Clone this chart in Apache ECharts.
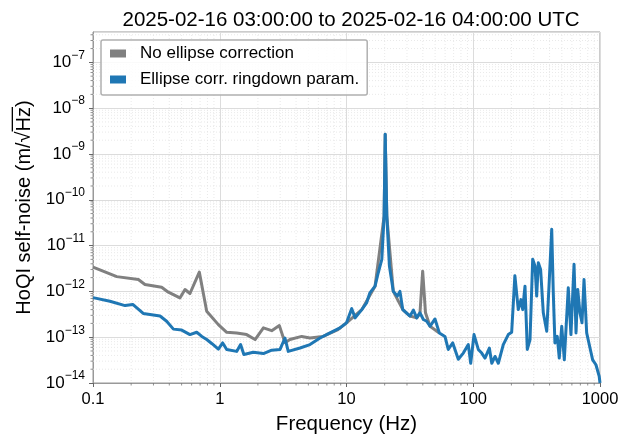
<!DOCTYPE html>
<html><head><meta charset="utf-8">
<script src="https://cdn.jsdelivr.net/npm/echarts@6/dist/echarts.min.js"></script>
<style>html,body{margin:0;padding:0;background:#fff}#c{width:631px;height:436px}</style>
</head><body><div id="c"></div>
<script>
const titleText = '2025-02-16 03:00:00 to 2025-02-16 04:00:00 UTC';
const xAxisName = 'Frequency (Hz)';
const yAxisNamePre = 'HoQI self-noise (m/\u221A';
const yAxisNameRoot = 'Hz';
const yAxisNamePost = ')';
const seriesNames = ['No ellipse correction', 'Ellipse corr. ringdown param.'];
const xTickLabels = ['0.1', '1', '10', '100', '1000'];
const X_MIN = 0.1, X_MAX = 1000;
const Y_MIN = 1e-14, Y_MAX = 4.6e-7;

const grayFreq = [0.1, 0.154, 0.228, 0.257, 0.348, 0.393, 0.485, 0.532, 0.582, 0.69, 0.789, 0.975, 1.135, 1.36, 1.63, 1.90, 2.21, 2.57, 2.95, 3.27, 3.58, 4.43, 5.15, 6.53, 8.57, 10.0, 13.2, 16.8, 19.8, 20.2, 20.8, 23.4, 27.8, 31.7, 35.8, 38.0, 39.9, 42.0, 45.6, 54.0];
const grayVal = [3.4e-12, 2.1e-12, 1.82e-12, 1.41e-12, 1.23e-12, 9.6e-13, 7.2e-13, 1.1e-12, 9.0e-13, 2.63e-12, 3.7e-13, 1.88e-13, 1.28e-13, 1.24e-13, 1.14e-13, 8.9e-14, 1.6e-13, 1.39e-13, 1.8e-13, 7.6e-14, 8.9e-14, 1.04e-13, 9.6e-14, 1.04e-13, 1.47e-13, 2.06e-13, 4.0e-13, 1.3e-12, 4.4e-11, 2.7e-9, 4.4e-11, 1.0e-12, 4.0e-13, 2.9e-13, 2.64e-13, 3.4e-13, 2.76e-12, 3.4e-13, 1.73e-13, 1.24e-13];

const blueFreq = [0.1, 0.136, 0.179, 0.206, 0.249, 0.338, 0.381, 0.431, 0.501, 0.582, 0.658, 0.722, 0.789, 0.869, 0.975, 1.055, 1.135, 1.36, 1.46, 1.55, 1.84, 2.21, 2.57, 2.99, 3.27, 3.47, 4.30, 5.15, 6.18, 7.41, 8.89, 10.0, 11.0, 11.7, 13.2, 14.4, 15.3, 16.8, 17.8, 19.0, 19.8, 20.2, 20.8, 21.8, 23.4, 25.2, 26.4, 27.8, 31.7, 33.7, 35.8, 38.0, 40.4, 42.9, 45.6, 49.9, 54.0, 59.8, 63.5, 68.9, 76.2, 83.5, 91.4, 95.5, 101.4, 109.6, 116.6, 123.8, 134, 140, 148.6, 157.7, 172.6, 189, 201, 213, 226.6, 238, 245.5, 256, 267, 280.5, 294.4, 307, 316.6, 326, 340, 357, 380, 396, 416, 428, 441, 460, 477, 499, 523, 562, 590, 624, 647, 667, 695, 721, 748, 785, 834, 875, 929, 986, 1000];
const blueVal = [7.3e-13, 6.1e-13, 4.9e-13, 5.2e-13, 3.3e-13, 2.9e-13, 2.23e-13, 1.5e-13, 1.43e-13, 1.14e-13, 1.28e-13, 1.04e-13, 8.9e-14, 7.2e-14, 5.5e-14, 7.5e-14, 5.4e-14, 4.9e-14, 6.9e-14, 4.2e-14, 4.7e-14, 4.4e-14, 5.2e-14, 5.4e-14, 9.6e-14, 4.9e-14, 5.8e-14, 6.9e-14, 9.6e-14, 1.24e-13, 1.6e-13, 2.06e-13, 4.2e-13, 2.64e-13, 4.0e-13, 5.6e-13, 9.3e-13, 1.3e-12, 2.55e-12, 5.0e-12, 4.4e-11, 2.7e-9, 4.4e-11, 3.6e-12, 1.0e-12, 7.9e-13, 1.0e-12, 4.0e-13, 2.9e-13, 3.9e-13, 2.64e-13, 3.4e-13, 2.43e-13, 2.23e-13, 1.73e-13, 2.5e-13, 1.24e-13, 1.04e-13, 5.4e-14, 7.5e-14, 3.3e-14, 4.5e-14, 6.9e-14, 2.7e-14, 1.14e-13, 5.4e-14, 4.5e-14, 3.5e-14, 5.8e-14, 2.7e-14, 3.8e-14, 2.7e-14, 6.9e-14, 1.14e-13, 1.28e-13, 2.2e-12, 4.0e-13, 6.6e-13, 4.0e-13, 1.3e-12, 5.4e-14, 8.9e-14, 5.0e-12, 3.6e-12, 7.9e-13, 4.2e-12, 3.0e-12, 3.4e-13, 1.35e-13, 1.3e-12, 2.26e-11, 9.3e-13, 7.5e-14, 1.04e-13, 3.5e-14, 1.73e-13, 3.2e-14, 1.2e-12, 1.14e-13, 3.9e-12, 1.24e-13, 1.1e-12, 3.4e-13, 2.06e-13, 1.82e-12, 1.24e-13, 5.8e-14, 3.2e-14, 2.5e-14, 1.39e-14, 1.0e-14];

const F = '"Liberation Sans", Arial, sans-serif';
const AXIS_COLOR = '#999999';

// minor tick positions (decade subdivisions)
const minorItems = [];
for (let d = -1; d < 3; d++) for (let k = 2; k <= 9; k++) minorItems.push([+(k * Math.pow(10, d)).toPrecision(3), Y_MIN, 0]);
for (let d = -14; d <= -7; d++) for (let k = 2; k <= 9; k++) { const v = +(k * Math.pow(10, d)).toPrecision(3); if (v < Y_MAX) minorItems.push([X_MIN, v, 1]); }

// measure name text for the radical overline
const ctx = document.createElement('canvas').getContext('2d');
ctx.font = '20px "Liberation Sans"';
const wPre = ctx.measureText(yAxisNamePre).width;
const wRoot = ctx.measureText(yAxisNameRoot).width;
const wPost = ctx.measureText(yAxisNamePost).width;

const chart = echarts.init(document.getElementById('c'), null, { renderer: 'canvas' });
chart.setOption({
  animation: false,
  backgroundColor: '#ffffff',
  title: {
    text: titleText, left: 346, top: 5, textAlign: 'center',
    textStyle: { fontFamily: F, fontSize: 20.5, fontWeight: 'normal', color: '#000' }
  },
  grid: { left: 93, right: 31, top: 32, bottom: 53, containLabel: false, outerBoundsMode: 'none',
    show: true, borderColor: AXIS_COLOR, borderWidth: 1, backgroundColor: 'transparent' },
  legend: {
    left: 101, top: 40, orient: 'vertical', data: seriesNames, icon: 'rect', itemWidth: 16, itemHeight: 8, itemGap: 9,
    padding: [5, 8, 7, 9], borderColor: '#b0b0b0', borderWidth: 1.5, borderRadius: 2, backgroundColor: 'rgba(255,255,255,0.85)',
    textStyle: { fontFamily: F, fontSize: 17, color: '#000', padding: [0, 0, 0, 9] }
  },
  xAxis: {
    type: 'log', logBase: 10, min: X_MIN, max: X_MAX, splitNumber: 4,
    name: xAxisName, nameLocation: 'middle', nameGap: 31,
    nameTextStyle: { fontFamily: F, fontSize: 20.5, color: '#000' },
    axisLine: { show: true, lineStyle: { color: AXIS_COLOR, width: 1 } },
    axisTick: { show: true, inside: false, length: 4, lineStyle: { color: '#666' } },
    axisLabel: { margin: 8, fontFamily: F, fontSize: 16.5, color: '#000',
      formatter: v => { const e = Math.round(Math.log10(v)); return xTickLabels[e + 1] ?? ''; } },
    splitLine: { show: true, lineStyle: { color: '#dcdcdc', width: 1 } }
  },
  yAxis: {
    type: 'log', logBase: 10, min: Y_MIN, max: Y_MAX, splitNumber: 8,
    name: '{sp|}{bar|}{sp2|}\n{t|' + yAxisNamePre + yAxisNameRoot + yAxisNamePost + '}',
    nameLocation: 'middle', nameGap: 50,
    nameTextStyle: {
      fontFamily: F, fontSize: 20, color: '#000',
      rich: {
        sp: { width: wPre, height: 3, lineHeight: 3 },
        bar: { width: wRoot, height: 1.3, lineHeight: 3, backgroundColor: '#000' },
        sp2: { width: wPost, height: 3, lineHeight: 3 },
        t: { fontFamily: F, fontSize: 20, color: '#000', lineHeight: 22 }
      }
    },
    axisLine: { show: true, lineStyle: { color: AXIS_COLOR, width: 1 } },
    axisTick: { show: true, inside: false, length: 4, lineStyle: { color: '#666' } },
    axisLabel: {
      margin: 8, showMaxLabel: false,
      formatter: v => { const e = Math.round(Math.log10(v)); return '{b|10}{s|' + (e < 0 ? '\u2212' : '') + Math.abs(e) + '}'; },
      rich: {
        b: { fontFamily: F, fontSize: 17, color: '#000' },
        s: { fontFamily: F, fontSize: 12, color: '#000', padding: [0, 0, 14, 0] }
      }
    },
    splitLine: { show: true, lineStyle: { color: '#dcdcdc', width: 1 } }
  },
  series: [
    {
      type: 'custom', silent: true, z: 1, clip: false,
      encode: { x: 0, y: 1 },
      data: minorItems,
      renderItem: (params, api) => {
        const t = api.value(2);
        const style = { stroke: '#e3e3e3', lineWidth: 0.8, lineDash: [1, 2] };
        const tick = { stroke: '#777', lineWidth: 0.8 };
        if (t === 0) {
          const v = api.value(0);
          const b = api.coord([v, Y_MIN]), tp = api.coord([v, Y_MAX]);
          return { type: 'group', children: [
            { type: 'line', shape: { x1: b[0], y1: tp[1], x2: b[0], y2: b[1] }, style },
            { type: 'line', shape: { x1: b[0], y1: b[1], x2: b[0], y2: b[1] + 2.5 }, style: tick }
          ] };
        } else {
          const v = api.value(1);
          const l = api.coord([X_MIN, v]), r = api.coord([X_MAX, v]);
          return { type: 'group', children: [
            { type: 'line', shape: { x1: l[0], y1: l[1], x2: r[0], y2: l[1] }, style },
            { type: 'line', shape: { x1: l[0] - 2.5, y1: l[1], x2: l[0], y2: l[1] }, style: tick }
          ] };
        }
      }
    },
    {
      name: seriesNames[0], type: 'line', z: 3, symbol: 'none', showSymbol: false,
      color: '#808080',
      lineStyle: { color: '#808080', width: 3, join: 'round' },
      data: grayFreq.map((f, i) => [f, grayVal[i]])
    },
    {
      name: seriesNames[1], type: 'line', z: 4, symbol: 'none', showSymbol: false,
      color: '#1f77b4',
      lineStyle: { color: '#1f77b4', width: 3, join: 'round' },
      data: blueFreq.map((f, i) => [f, blueVal[i]])
    }
  ]
});
</script>
</body></html>
